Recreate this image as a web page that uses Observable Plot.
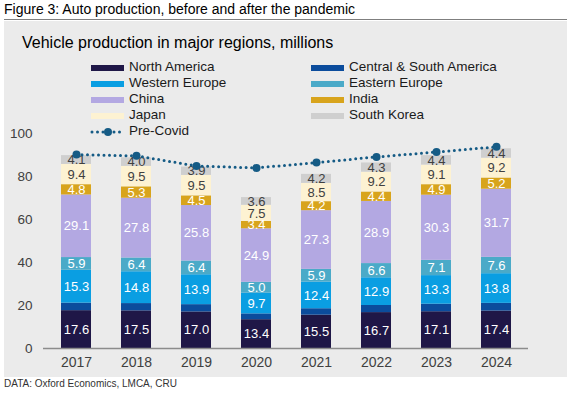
<!DOCTYPE html>
<html>
<head>
<meta charset="utf-8">
<script src="https://cdn.jsdelivr.net/npm/d3@7"></script>
<script src="https://cdn.jsdelivr.net/npm/@observablehq/plot@0.6"></script>
<style>
  body { margin: 0; background: #fff; font-family: "Liberation Sans", Arial, sans-serif; color: #000; }
  #root { position: relative; width: 573px; height: 393px; overflow: hidden; }
  .abs { position: absolute; white-space: nowrap; }
</style>
</head>
<body>
<div id="root">
  <div class="abs" style="top:1px;left:4px;font-size:14px;">Figure 3: Auto production, before and after the pandemic</div>
  <div class="abs" style="top:19px;left:4px;width:563px;height:1px;background:#7f7f7f;"></div>
  <div class="abs" style="top:21px;left:4px;width:563px;height:356px;background:#ebebeb;"></div>
  <div class="abs" style="top:34px;left:22px;font-size:16px;">Vehicle production in major regions, millions</div>
  <div id="legend"></div>
  <div id="plot" class="abs" style="top:120px;left:0px;"></div>
  <div class="abs" style="top:378px;left:4px;font-size:10px;color:#333;">DATA: Oxford Economics, LMCA, CRU</div>
</div>
<script>
// ---- data ----
const years = ["2017", "2018", "2019", "2020", "2021", "2022", "2023", "2024"];
const seriesNames = ["North America", "Central & South America", "Western Europe", "Eastern Europe", "China", "India", "Japan", "South Korea"];
const seriesColors = ["#1f1747", "#0b4c9c", "#0a9ee2", "#4baac8", "#b3a8e2", "#d8a41c", "#fdf2d2", "#cfcfcf"];
const northAmerica = [17.6, 17.5, 17.0, 13.4, 15.5, 16.7, 17.1, 17.4];
const centralSouthAmerica = [3.5, 3.4, 3.4, 2.7, 3.0, 3.3, 3.5, 3.6];
const westernEurope = [15.3, 14.8, 13.9, 9.7, 12.4, 12.9, 13.3, 13.8];
const easternEurope = [5.9, 6.4, 6.4, 5.0, 5.9, 6.6, 7.1, 7.6];
const china = [29.1, 27.8, 25.8, 24.9, 27.3, 28.9, 30.3, 31.7];
const india = [4.8, 5.3, 4.5, 3.4, 4.2, 4.4, 4.9, 5.2];
const japan = [9.4, 9.5, 9.5, 7.5, 8.5, 9.2, 9.1, 9.2];
const southKorea = [4.1, 4.0, 3.9, 3.6, 4.2, 4.3, 4.4, 4.4];
const preCovid = [90.2, 89.6, 84.9, 84.0, 86.5, 89.1, 91.4, 93.8];
const yTicks = [0, 20, 40, 60, 80, 100];
const preCovidName = "Pre-Covid";
const preCovidColor = "#155b85";

const seriesValues = [northAmerica, centralSouthAmerica, westernEurope, easternEurope, china, india, japan, southKorea];
const whiteLabelSeries = ["North America", "Western Europe", "Eastern Europe", "China", "India"];
const darkLabelSeries = ["Japan", "South Korea"];

const rows = [];
years.forEach((yr, i) => {
  seriesNames.forEach((s, j) => rows.push({year: yr, series: s, value: seriesValues[j][i]}));
});
const lineRows = years.map((yr, i) => ({year: yr, value: preCovid[i]}));
const fmt = d3.format(".1f");

// ---- legend ----
const legend = document.getElementById("legend");
const colX = [91, 311];
const rowY = [59, 74.5, 90.5, 106.5, 122.5];
const legendFont = 13.5;
seriesNames.forEach((s, j) => {
  const c = j % 2, r = Math.floor(j / 2);
  const sw = document.createElement("div");
  sw.className = "abs";
  sw.style.cssText = `left:${colX[c]}px;top:${rowY[r] + 6}px;width:33px;height:6px;background:${seriesColors[j]};`;
  legend.appendChild(sw);
  const t = document.createElement("div");
  t.className = "abs";
  t.style.cssText = `left:${colX[c] + 38}px;top:${rowY[r]}px;font-size:${legendFont}px;color:#1a1a1a;`;
  t.textContent = s;
  legend.appendChild(t);
});
{
  const r = 4;
  const ns = "http://www.w3.org/2000/svg";
  const svg = document.createElementNS(ns, "svg");
  svg.setAttribute("width", 36); svg.setAttribute("height", 12);
  svg.style.cssText = `position:absolute;left:${colX[0] - 1}px;top:${rowY[r] + 3}px;`;
  const ln = document.createElementNS(ns, "line");
  ln.setAttribute("x1", 2); ln.setAttribute("x2", 34); ln.setAttribute("y1", 6); ln.setAttribute("y2", 6);
  ln.setAttribute("stroke", preCovidColor); ln.setAttribute("stroke-width", 3);
  ln.setAttribute("stroke-dasharray", "0 5.5"); ln.setAttribute("stroke-linecap", "round");
  svg.appendChild(ln);
  const c = document.createElementNS(ns, "circle");
  c.setAttribute("cx", 18); c.setAttribute("cy", 6); c.setAttribute("r", 4); c.setAttribute("fill", preCovidColor);
  svg.appendChild(c);
  legend.appendChild(svg);
  const t = document.createElement("div");
  t.className = "abs";
  t.style.cssText = `left:${colX[0] + 38}px;top:${rowY[r]}px;font-size:${legendFont}px;color:#1a1a1a;`;
  t.textContent = preCovidName;
  legend.appendChild(t);
}

// ---- chart ----
const chart = Plot.plot({
  width: 573,
  height: 260,
  marginTop: 13,
  marginBottom: 32,
  marginLeft: 43,
  marginRight: 45,
  style: {background: "transparent", fontFamily: "'Liberation Sans', Arial, sans-serif", fontSize: "13.5px", color: "#404040"},
  x: {domain: years, paddingInner: 0.5, paddingOuter: 0.25, label: null, tickSize: 0, tickPadding: 9},
  y: {domain: [0, 100], ticks: yTicks, label: null, tickSize: 0, tickPadding: 11},
  color: {domain: seriesNames, range: seriesColors},
  marks: [
    Plot.barY(rows, {x: "year", y: "value", fill: "series"}),
    Plot.ruleY([0], {stroke: "#8c8c8c", strokeWidth: 1.3}),
    Plot.axisX({tickSize: 0, tickPadding: 9, fontSize: 14, label: null}),
    Plot.text(rows, Plot.stackY({
      x: "year", y: "value", z: "series",
      text: d => whiteLabelSeries.includes(d.series) ? fmt(d.value) : "",
      fill: "white", fontSize: 13
    })),
    Plot.text(rows, Plot.stackY({
      x: "year", y: "value", z: "series",
      text: d => darkLabelSeries.includes(d.series) ? fmt(d.value) : "",
      fill: "#404040", fontSize: 13
    })),
    Plot.line(lineRows, {x: "year", y: "value", stroke: preCovidColor, strokeWidth: 3, strokeDasharray: "0 5.5", strokeLinecap: "round"}),
    Plot.dot(lineRows, {x: "year", y: "value", r: 4, fill: preCovidColor})
  ]
});
document.getElementById("plot").appendChild(chart);
</script>
</body>
</html>
